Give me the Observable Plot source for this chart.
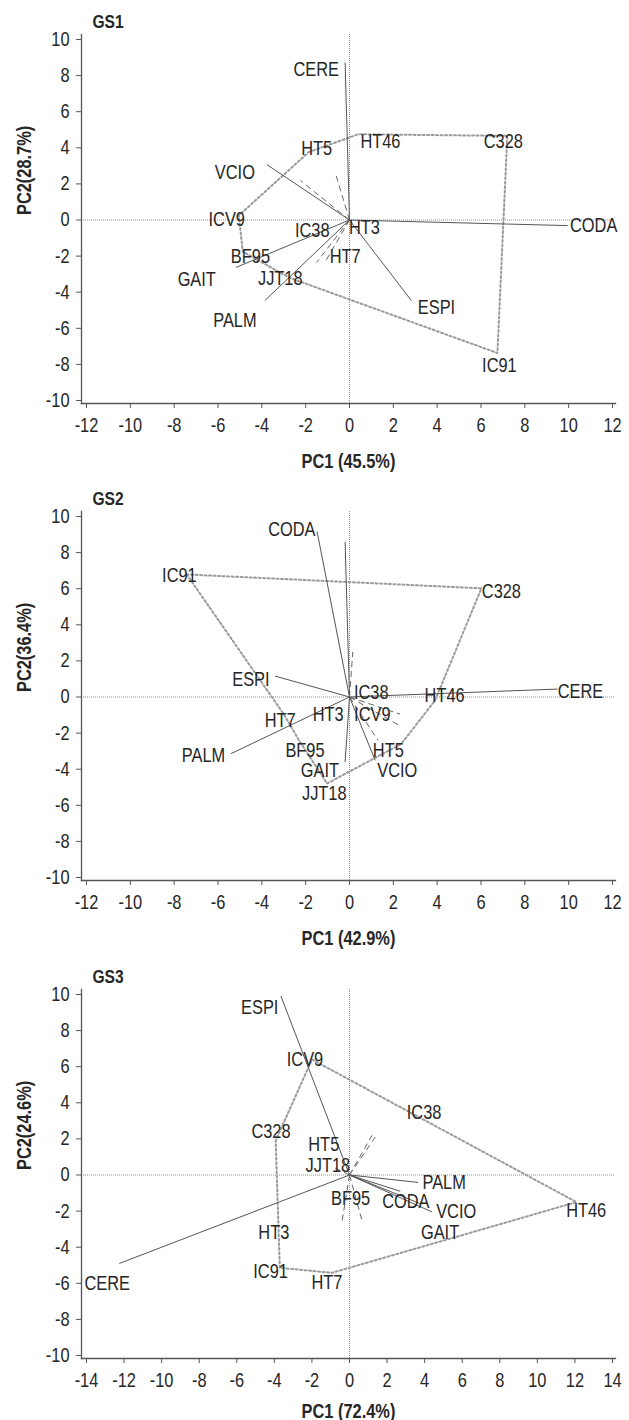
<!DOCTYPE html>
<html><head><meta charset="utf-8">
<script src="https://cdn.jsdelivr.net/npm/d3@7"></script>
<script src="https://cdn.jsdelivr.net/npm/@observablehq/plot@0.6"></script>
<style>
body{margin:0;background:#fff}
#c svg{display:block}
</style>
</head><body><div id="c"></div>
<script>
// ---------- shared text ----------
const panelTitles = ["GS1", "GS2", "GS3"];
const pc1Labels = ["PC1 (45.5%)", "PC1 (42.9%)", "PC1 (72.4%)"];
const pc2Labels = ["PC2(28.7%)", "PC2(36.4%)", "PC2(24.6%)"];
const xTicksA = [-12, -10, -8, -6, -4, -2, 0, 2, 4, 6, 8, 10, 12];
const xTicksB = [-14, -12, -10, -8, -6, -4, -2, 0, 2, 4, 6, 8, 10, 12, 14];
const yTicks = [-10, -8, -6, -4, -2, 0, 2, 4, 6, 8, 10];

// ---------- GS1 ----------
const gs1TraitNames = ["CERE", "CODA", "VCIO", "ESPI", "GAIT", "PALM"];
const gs1TraitEnd = [[-0.2, 8.72], [9.95, -0.31], [-3.77, 3.07], [2.82, -4.46], [-5.18, -2.63], [-3.86, -4.46]];
const gs1TraitLabel = [[-1.52, 8.32], [11.14, -0.31], [-5.23, 2.65], [3.97, -4.84], [-6.97, -3.31], [-5.23, -5.58]];
const gs1GenoNames = ["HT46", "C328", "HT5", "ICV9", "IC38", "HT3", "BF95", "HT7", "JJT18", "IC91"];
const gs1GenoLabel = [[1.41, 4.33], [7.02, 4.33], [-1.5, 3.95], [-5.6, 0.0], [-1.7, -0.57], [0.68, -0.42], [-4.52, -2.05], [-0.2, -2.05], [-3.16, -3.26], [6.84, -8.05]];
const gs1Hull = [[-1.86, 3.76], [0.4, 4.75], [7.2, 4.66], [6.75, -7.37], [-2.76, -3.19], [-4.87, -1.75], [-5.05, 0.25]];
const gs1Rays = [[-2.24, 2.19], [-0.62, 2.5], [-1.5, -2.35], [-1.1, -2.3]];

// ---------- GS2 ----------
const gs2TraitNames = ["CODA", "", "ESPI", "CERE", "PALM", "GAIT", "VCIO"];
const gs2TraitEnd = [[-1.48, 9.17], [-0.2, 8.59], [-3.4, 1.16], [9.49, 0.44], [-5.41, -3.14], [-0.2, -3.6], [1.17, -3.51]];
const gs2TraitLabel = [[-2.63, 9.27], [-0.2, 8.59], [-4.5, 0.97], [10.54, 0.29], [-6.66, -3.27], [-1.35, -4.06], [2.18, -4.1]];
const gs2GenoNames = ["IC91", "C328", "IC38", "HT46", "HT3", "ICV9", "HT7", "BF95", "HT5", "JJT18"];
const gs2GenoLabel = [[-7.76, 6.75], [6.93, 5.83], [0.99, 0.24], [4.34, 0.06], [-0.97, -0.95], [1.04, -0.99], [-3.16, -1.32], [-2.03, -2.96], [1.77, -2.96], [-1.15, -5.34]];
const gs2Hull = [[-7.43, 6.79], [6.02, 6.02], [3.9, -0.2], [2.36, -2.6], [-1.02, -4.79], [-2.3, -2.41], [-3.0, -0.95]];
const gs2Rays = [[0.15, 2.5], [2.3, -0.95], [2.3, -1.6], [1.3, -2.4]];

// ---------- GS3 ----------
const gs3TraitNames = ["ESPI", "CERE", "PALM", "CODA", "GAIT", "VCIO"];
const gs3TraitEnd = [[-3.65, 9.91], [-12.25, -4.9], [3.65, -0.41], [2.7, -0.9], [3.8, -1.6], [4.4, -2.05]];
const gs3TraitLabel = [[-4.78, 9.26], [-12.9, -6.0], [5.04, -0.4], [3.0, -1.5], [4.82, -3.18], [5.68, -2.05]];
const gs3GenoNames = ["ICV9", "IC38", "C328", "HT5", "JJT18", "BF95", "HT3", "IC91", "HT7", "HT46"];
const gs3GenoLabel = [[-2.37, 6.41], [3.97, 3.46], [-4.18, 2.39], [-1.37, 1.71], [-1.15, 0.52], [0.06, -1.3], [-4.03, -3.18], [-4.2, -5.33], [-1.2, -5.98], [12.6, -1.96]];
const gs3Hull = [[-2.0, 6.4], [12.08, -1.5], [-0.94, -5.42], [-3.71, -5.14], [-3.93, 1.9]];
const gs3Rays = [[1.5, 2.3], [1.2, 2.2], [-0.4, -2.6], [0.66, -2.5], [-0.9, 0.45]];

// ---------- drawing ----------
const FONT = "'Liberation Sans',Arial,Helvetica,sans-serif";
const INK = "#262626";

// narrow the glyphs horizontally around each text's anchor point
function condense(svg, k) {
  svg.querySelectorAll("text").forEach(t => {
    const tr = t.getAttribute("transform") || "";
    const x = t.getAttribute("x");
    if (x != null && /^-?[\d.]+$/.test(x.trim())) t.setAttribute("x", String(+x / k));
    t.setAttribute("transform", `${tr} scale(${k},1)`.trim());
  });
  return svg;
}

function panel(cfg) {
  const traits = cfg.traitNames.map((n, i) => ({name: n, x: cfg.traitEnd[i][0], y: cfg.traitEnd[i][1], lx: cfg.traitLabel[i][0], ly: cfg.traitLabel[i][1]}));
  const genos = cfg.genoNames.map((n, i) => ({name: n, x: cfg.genoLabel[i][0], y: cfg.genoLabel[i][1]}));
  const hull = cfg.hull.map(([x, y]) => ({x, y}));
  hull.push(hull[0]);
  const rays = cfg.rays.map(([x, y]) => ({x, y}));
  const H = cfg.height;
  const svg = Plot.plot({
    width: 629, height: H,
    marginLeft: 81, marginRight: 14, marginTop: 34, marginBottom: H - 403,
    insetLeft: 5, insetRight: 3, insetTop: 5, insetBottom: 3,
    x: {domain: cfg.xDomain},
    y: {domain: [-10, 10]},
    style: {fontFamily: FONT, fontSize: "20px", color: INK, background: "#fff", overflow: "visible"},
    marks: [
      Plot.ruleY([0], {stroke: "#777", strokeWidth: 0.8, strokeDasharray: "1,1"}),
      Plot.ruleX([0], {stroke: "#777", strokeWidth: 0.8, strokeDasharray: "1,1"}),
      Plot.line(hull, {x: "x", y: "y", stroke: "#9a9a9a", strokeWidth: 2, strokeDasharray: "2,2.5", curve: "linear"}),
      Plot.link(rays, {x1: () => 0, y1: () => 0, x2: "x", y2: "y", stroke: "#666", strokeWidth: 1, strokeDasharray: "6,4"}),
      Plot.link(traits, {x1: () => 0, y1: () => 0, x2: "x", y2: "y", stroke: "#555", strokeWidth: 1}),
      Plot.text(traits, {x: "lx", y: "ly", text: "name", fill: INK, fontSize: 20}),
      Plot.text(genos, {x: "x", y: "y", text: "name", fill: INK, fontSize: 20}),
      Plot.frame({anchor: "left", stroke: "#555", strokeWidth: 1.3}),
      Plot.frame({anchor: "bottom", stroke: "#555", strokeWidth: 1.3}),
      Plot.axisX({ticks: cfg.xTicks, tickSize: 5, tickPadding: 9, tickFormat: d => String(d), label: null, fontSize: 20, stroke: "#555", fill: INK}),
      Plot.axisY({ticks: yTicks, tickSize: 5, tickPadding: 7, tickFormat: d => String(d), label: null, fontSize: 20, stroke: "#555", fill: INK}),
      Plot.text([cfg.title], {frameAnchor: "top-left", dx: 11, dy: -20, textAnchor: "start", fontWeight: "bold", fontSize: 19, fill: INK}),
      Plot.text([cfg.ylab], {frameAnchor: "left", rotate: -90, dx: -57, dy: -4, fontWeight: "bold", fontSize: 20, fill: INK}),
      Plot.text([cfg.xlab], {frameAnchor: "bottom", dy: cfg.xlabDy, fontWeight: "bold", fontSize: 20, fill: INK})
    ]
  });
  return condense(svg, 0.82);
}

const root = document.getElementById("c");
root.append(panel({title: panelTitles[0], xlab: pc1Labels[0], ylab: pc2Labels[0], xTicks: xTicksA, xDomain: [-12, 12],
  traitNames: gs1TraitNames, traitEnd: gs1TraitEnd, traitLabel: gs1TraitLabel, genoNames: gs1GenoNames, genoLabel: gs1GenoLabel,
  hull: gs1Hull, rays: gs1Rays, height: 477, xlabDy: 64}));
root.append(panel({title: panelTitles[1], xlab: pc1Labels[1], ylab: pc2Labels[1], xTicks: xTicksA, xDomain: [-12, 12],
  traitNames: gs2TraitNames, traitEnd: gs2TraitEnd, traitLabel: gs2TraitLabel, genoNames: gs2GenoNames, genoLabel: gs2GenoLabel,
  hull: gs2Hull, rays: gs2Rays, height: 478, xlabDy: 64}));
root.append(panel({title: panelTitles[2], xlab: pc1Labels[2], ylab: pc2Labels[2], xTicks: xTicksB, xDomain: [-14, 14],
  traitNames: gs3TraitNames, traitEnd: gs3TraitEnd, traitLabel: gs3TraitLabel, genoNames: gs3GenoNames, genoLabel: gs3GenoLabel,
  hull: gs3Hull, rays: gs3Rays, height: 465, xlabDy: 59}));
</script>
</body></html>
